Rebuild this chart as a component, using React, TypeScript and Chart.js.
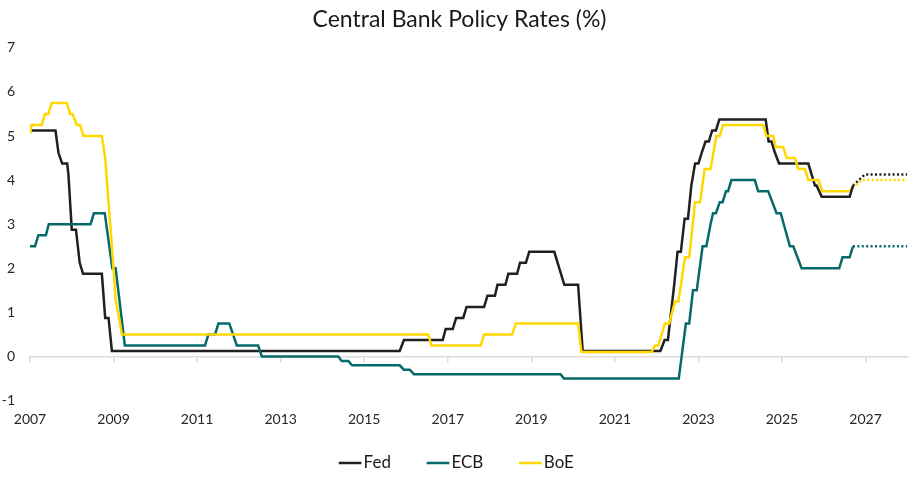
import { useEffect, useRef } from "react";
import { Chart, registerables } from "chart.js";

Chart.register(...registerables);

const TITLE = "Central Bank Policy Rates (%)";
const SERIES_NAMES = ["Fed", "ECB", "BoE"];
const SERIES_COLORS = ["#231F20", "#076A6A", "#FFD800"];
const X_TICKS = [2007, 2009, 2011, 2013, 2015, 2017, 2019, 2021, 2023, 2025, 2027];
const X_MIN = 2007;
const X_MAX = 2028;
const Y_MIN = -1;
const Y_MAX = 7;

// [decimal year, rate %]
const fedRate: [number, number][] = [
  [2007.0, 5.125], [2007.61, 5.125], [2007.68, 4.625], [2007.77, 4.375], [2007.89, 4.375],
  [2007.92, 4.125], [2008.0, 2.875], [2008.1, 2.875], [2008.19, 2.125], [2008.27, 1.875],
  [2008.72, 1.875], [2008.8, 0.875], [2008.88, 0.875], [2008.96, 0.125], [2015.85, 0.125],
  [2015.95, 0.375], [2016.88, 0.375], [2016.95, 0.625], [2017.12, 0.625], [2017.2, 0.875],
  [2017.37, 0.875], [2017.45, 1.125], [2017.87, 1.125], [2017.95, 1.375], [2018.13, 1.375],
  [2018.19, 1.625], [2018.38, 1.625], [2018.45, 1.875], [2018.66, 1.875], [2018.73, 2.125],
  [2018.87, 2.125], [2018.95, 2.375], [2019.55, 2.375], [2019.79, 1.625], [2020.12, 1.625],
  [2020.23, 0.125], [2022.09, 0.125], [2022.19, 0.375], [2022.27, 0.375], [2022.33, 0.875],
  [2022.42, 1.625], [2022.5, 2.375], [2022.58, 2.375], [2022.67, 3.125], [2022.75, 3.125],
  [2022.83, 3.875], [2022.92, 4.375], [2023.0, 4.375], [2023.08, 4.625], [2023.17, 4.875],
  [2023.25, 4.875], [2023.33, 5.125], [2023.42, 5.125], [2023.5, 5.375], [2024.61, 5.375],
  [2024.68, 4.875], [2024.75, 4.875], [2024.83, 4.625], [2024.93, 4.375], [2025.63, 4.375],
  [2025.79, 3.875], [2025.83, 3.875], [2025.95, 3.625], [2026.62, 3.625], [2026.7, 3.875],
];
const fedProjection: [number, number][] = [[2026.7, 3.875], [2026.98, 4.125], [2028.0, 4.125]];

const ecbRate: [number, number][] = [
  [2007.0, 2.5], [2007.12, 2.5], [2007.2, 2.75], [2007.38, 2.75], [2007.45, 3.0],
  [2008.45, 3.0], [2008.53, 3.25], [2008.79, 3.25], [2008.97, 2.0], [2009.05, 2.0],
  [2009.27, 0.25], [2011.19, 0.25], [2011.27, 0.5], [2011.43, 0.5], [2011.51, 0.75],
  [2011.77, 0.75], [2011.95, 0.25], [2012.46, 0.25], [2012.55, 0.0], [2014.38, 0.0],
  [2014.46, -0.1], [2014.62, -0.1], [2014.71, -0.2], [2015.85, -0.2], [2015.95, -0.3],
  [2016.09, -0.3], [2016.19, -0.4], [2019.7, -0.4], [2019.78, -0.5], [2022.53, -0.5],
  [2022.7, 0.75], [2022.78, 0.75], [2022.87, 1.5], [2022.96, 1.5], [2023.1, 2.5],
  [2023.19, 2.5], [2023.29, 3.0], [2023.35, 3.25], [2023.42, 3.25], [2023.51, 3.5],
  [2023.58, 3.5], [2023.66, 3.75], [2023.71, 3.75], [2023.79, 4.0], [2024.35, 4.0],
  [2024.43, 3.75], [2024.67, 3.75], [2024.87, 3.25], [2024.97, 3.25], [2025.19, 2.5],
  [2025.27, 2.5], [2025.47, 2.0], [2026.37, 2.0], [2026.45, 2.25], [2026.62, 2.25],
  [2026.7, 2.5],
];
const ecbProjection: [number, number][] = [[2026.7, 2.5], [2028.0, 2.5]];

const boeRate: [number, number][] = [
  [2007.0, 5.05], [2007.04, 5.25], [2007.28, 5.25], [2007.36, 5.5], [2007.44, 5.5],
  [2007.52, 5.75], [2007.88, 5.75], [2007.96, 5.5], [2008.02, 5.5], [2008.12, 5.25],
  [2008.2, 5.25], [2008.28, 5.0], [2008.72, 5.0], [2008.8, 4.5], [2008.96, 2.5],
  [2009.05, 1.3], [2009.2, 0.5], [2016.53, 0.5], [2016.61, 0.25], [2017.79, 0.25],
  [2017.87, 0.5], [2018.54, 0.5], [2018.63, 0.75], [2020.12, 0.75], [2020.2, 0.1],
  [2021.88, 0.1], [2021.96, 0.25], [2022.04, 0.25], [2022.2, 0.75], [2022.3, 0.75],
  [2022.44, 1.25], [2022.52, 1.25], [2022.68, 2.25], [2022.78, 2.25], [2022.92, 3.5],
  [2023.04, 3.5], [2023.15, 4.25], [2023.29, 4.25], [2023.43, 5.0], [2023.51, 5.0],
  [2023.59, 5.25], [2024.55, 5.25], [2024.63, 5.0], [2024.79, 5.0], [2024.85, 4.75],
  [2025.03, 4.75], [2025.11, 4.5], [2025.31, 4.5], [2025.39, 4.25], [2025.55, 4.25],
  [2025.63, 4.0], [2025.87, 4.0], [2025.97, 3.75], [2026.62, 3.75],
];
const boeProjection: [number, number][] = [[2026.62, 3.75], [2026.9, 4.0], [2028.0, 4.0]];

const toPoints = (arr: [number, number][]) => arr.map(([x, y]) => ({ x, y }));

export default function App() {
  const canvasRef = useRef<HTMLCanvasElement | null>(null);

  useEffect(() => {
    if (!canvasRef.current) return;
    Chart.defaults.font.family = "Lato, 'Noto Sans', sans-serif";

    const solid = (i: number, arr: [number, number][], order: number) => ({
      label: SERIES_NAMES[i],
      data: toPoints(arr),
      xAxisID: "x",
      yAxisID: "y",
      borderColor: SERIES_COLORS[i],
      backgroundColor: SERIES_COLORS[i],
      borderWidth: 2.5,
      pointRadius: 0,
      tension: 0,
      order,
    });
    const dotted = (i: number, arr: [number, number][], order: number) => ({
      label: SERIES_NAMES[i] + " projection",
      data: toPoints(arr),
      xAxisID: "x",
      yAxisID: "y",
      borderColor: SERIES_COLORS[i],
      backgroundColor: SERIES_COLORS[i],
      borderWidth: 2.5,
      borderDash: [2, 2.4],
      pointRadius: 0,
      tension: 0,
      order,
    });
    const setTicks = (scale: any) => {
      scale.ticks = X_TICKS.map((value) => ({ value }));
    };

    const chart = new Chart(canvasRef.current, {
      type: "line",
      data: {
        datasets: [
          solid(0, fedRate, 3),
          solid(1, ecbRate, 2),
          solid(2, boeRate, 1),
          dotted(0, fedProjection, 6),
          dotted(1, ecbProjection, 5),
          dotted(2, boeProjection, 4),
        ] as any,
      },
      options: {
        animation: false,
        responsive: true,
        maintainAspectRatio: false,
        events: [],
        layout: { padding: { top: 0, bottom: 8.5, left: 2, right: 2 } },
        scales: {
          x: {
            type: "linear",
            axis: "x",
            min: X_MIN,
            max: X_MAX,
            position: { y: Y_MIN },
            grid: { display: false, drawTicks: false, drawOnChartArea: false },
            border: { display: false },
            ticks: {
              padding: 10,
              font: { size: 14 },
              color: "#262626",
              maxRotation: 0,
              autoSkip: false,
              callback: (v: any) => String(v),
            },
            afterBuildTicks: setTicks,
          },
          xZero: {
            type: "linear",
            axis: "x",
            min: X_MIN,
            max: X_MAX,
            position: { y: 0 },
            grid: {
              drawOnChartArea: false,
              drawTicks: true,
              tickLength: 5,
              color: "#dcdcdc",
              lineWidth: 1.5,
            },
            border: { display: true, color: "#dcdcdc", width: 1.5 },
            ticks: { display: false },
            afterBuildTicks: setTicks,
          },
          xSpacer: {
            type: "linear",
            axis: "x",
            min: X_MIN,
            max: X_MAX,
            position: "bottom",
            grid: { display: false, drawTicks: false },
            border: { display: false },
            ticks: { display: false },
            afterFit: (scale: any) => {
              scale.height = 11.9;
            },
          },
          y: {
            type: "linear",
            min: Y_MIN,
            max: Y_MAX,
            position: "left",
            grid: { display: false, drawTicks: false },
            border: { display: false },
            ticks: { stepSize: 1, padding: 15, font: { size: 14 }, color: "#262626" },
            afterFit: (scale: any) => {
              scale.width = 28;
            },
          },
          yRight: {
            type: "linear",
            axis: "y",
            min: Y_MIN,
            max: Y_MAX,
            position: "right",
            grid: { display: false, drawTicks: false },
            border: { display: false },
            ticks: { display: false },
            afterFit: (scale: any) => {
              scale.width = 9.7;
            },
          },
        } as any,
        plugins: {
          title: {
            display: true,
            text: TITLE,
            color: "#1a1a1a",
            font: { size: 23, weight: "normal" },
            padding: { top: 6.2, bottom: 14 },
          },
          legend: {
            display: true,
            position: "bottom",
            labels: {
              usePointStyle: true,
              pointStyle: "line",
              boxWidth: 10,
              boxHeight: 16,
              padding: 42,
              color: "#1a1a1a",
              font: { size: 17 },
              filter: (item: any) => item.datasetIndex < 3,
              sort: (a: any, b: any) => a.datasetIndex - b.datasetIndex,
            },
          },
          tooltip: { enabled: false },
        },
      } as any,
    });

    return () => chart.destroy();
  }, []);

  return (
    <div style={{ position: "fixed", left: 0, top: 0, width: 919, height: 490, background: "#fff" }}>
      <canvas ref={canvasRef} />
    </div>
  );
}
